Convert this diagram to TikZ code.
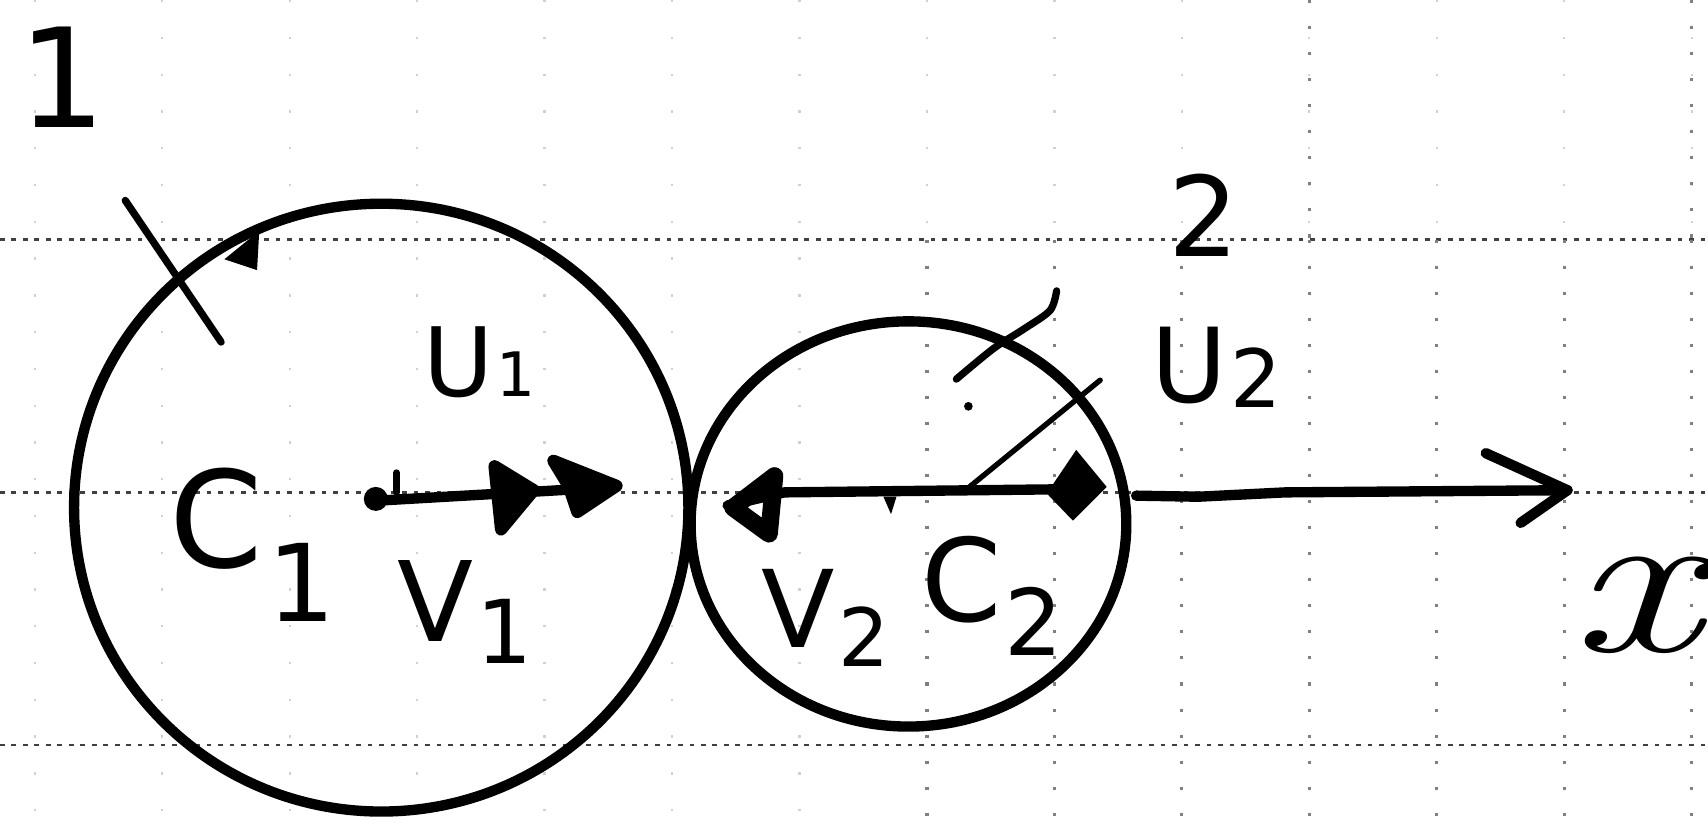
\documentclass[tikz,border=0pt]{standalone}
\usepackage{fontspec}
\newfontfamily\hand{DejaVu Sans}
\newcommand\sublab[5]{{\hand\fontsize{#1}{#1}\selectfont #2\kern0.03em\raisebox{#5}{\fontsize{#4}{#4}\selectfont #3}}}
\newcommand\onelab[2]{{\hand\fontsize{#1}{#1}\selectfont #2}}
\begin{document}
\begin{tikzpicture}[x=0.01cm,y=-0.01cm,
  pen/.style={line width=2.7pt, line cap=round, line join=round},
  midpen/.style={line width=1.9pt, line cap=round, line join=round},
  thinpen/.style={line width=1.4pt, line cap=round, line join=round},
  headpen/.style={line width=3.2pt, line join=round, fill=black},
  gridh/.style={line width=0.7pt, black!75, dash pattern=on 1.2pt off 1.8pt},
  gridv/.style={line width=0.8pt, black!50, dash pattern=on 0.8pt off 6pt},
  gridvfaint/.style={line width=0.6pt, black!18, dash pattern=on 0.6pt off 9pt},
  lab/.style={inner sep=0pt, outer sep=0pt}]
\useasboundingbox (0,0) rectangle (1568,756);
\fill[white] (0,0) rectangle (1568,756);
% paper grid
\foreach \y in {220,452,684} \draw[gridh] (0,\y) -- (1568,\y);
\foreach \x in {32,149,...,734} \draw[gridvfaint] (\x,0) -- (\x,756);
\foreach \x in {851,968,...,1553} \draw[gridvfaint] (\x,0) -- (\x,220);
\foreach \x in {1202,1553} \draw[gridv] (\x,0) -- (\x,220);
\foreach \x in {851,968,...,1553} \draw[gridv] (\x,220) -- (\x,756);
% circle 1 and circle 2
\draw[pen] (350,466) ellipse [x radius=282, y radius=279];
\draw[pen] (834,481) ellipse [x radius=200, y radius=186];
% rotation barb on circle 1
\fill (206,238) -- (238,212) -- (236,248) -- cycle;
% hatch on circle 1
\coordinate (h1a) at (115,184);
\coordinate (h1b) at (203,314);
\draw[midpen] (h1a) -- (h1b);
% hatch on circle 2
\draw[midpen] plot[smooth] coordinates {(970,267) (964,285) (940,302) (912,320) (878,348)};
% radius line from the line to U2
\coordinate (r0) at (890,447);
\coordinate (r1) at (1010,349);
\draw[thinpen] (r0) -- (r1);
\fill (889,373) circle (4);
% arrow V1 / U1
\coordinate (a1s) at (340,460);
\coordinate (a1e) at (566,447);
\draw[pen] (a1s) -- (a1e);
\fill (345,458) circle (11);
\draw[line width=1.8pt, line cap=round] (364,434) -- (364,452);
\draw[headpen] (454,428) -- (460,486) -- (490,450) -- cycle;
\draw[headpen] (508,423) -- (566,446) -- (530,470) -- (522,446) -- cycle;
% arrow V2 (to the left)
\coordinate (a2s) at (988,449);
\coordinate (a2e) at (668,464);
\draw[pen] (a2s) -- (720,452) -- (a2e);
\draw[line width=4.6pt, line join=round] (673,466) -- (711,437) -- (706,490) -- cycle;
\fill (961,453) -- (988,413) -- (1016,447) -- (985,478) -- cycle;
\fill (811,456) -- (823,456) -- (818,472) -- cycle;
% x axis
\coordinate (xs) at (1043,455);
\coordinate (xe) at (1439,450);
\draw[pen] (xs) -- (1100,456) -- (1180,452) -- (xe);
\draw[pen] (1364,416) -- (xe) -- (1396,480);
% labels
\node[lab] (n1) at (57,71) {\onelab{36}{1}};
\node[lab] (n2) at (1105,198) {\onelab{29}{2}};
\node[lab] (u1) at (440,333) {\sublab{25}{U}{1}{16}{0pt}};
\node[lab] (u2) at (1117,337) {\sublab{27}{U}{2}{21}{-1.4pt}};
\node[lab] (c1) at (232,500) {\sublab{35}{C}{1}{28}{-14pt}};
\node[lab] (v1) at (427,562) {\sublab{29}{V}{1}{23}{-5.7pt}};
\node[lab] (v2) at (758,567) {\sublab{28}{V}{2}{21}{-5pt}};
\node[lab] (c2) at (911,547) {\sublab{30}{C}{2}{24}{-9pt}};
\node[lab] (xl) at (1502,556) {\fontsize{56}{56}\selectfont\scalebox{1.35}[1]{\itshape x}};
\end{tikzpicture}
\end{document}
